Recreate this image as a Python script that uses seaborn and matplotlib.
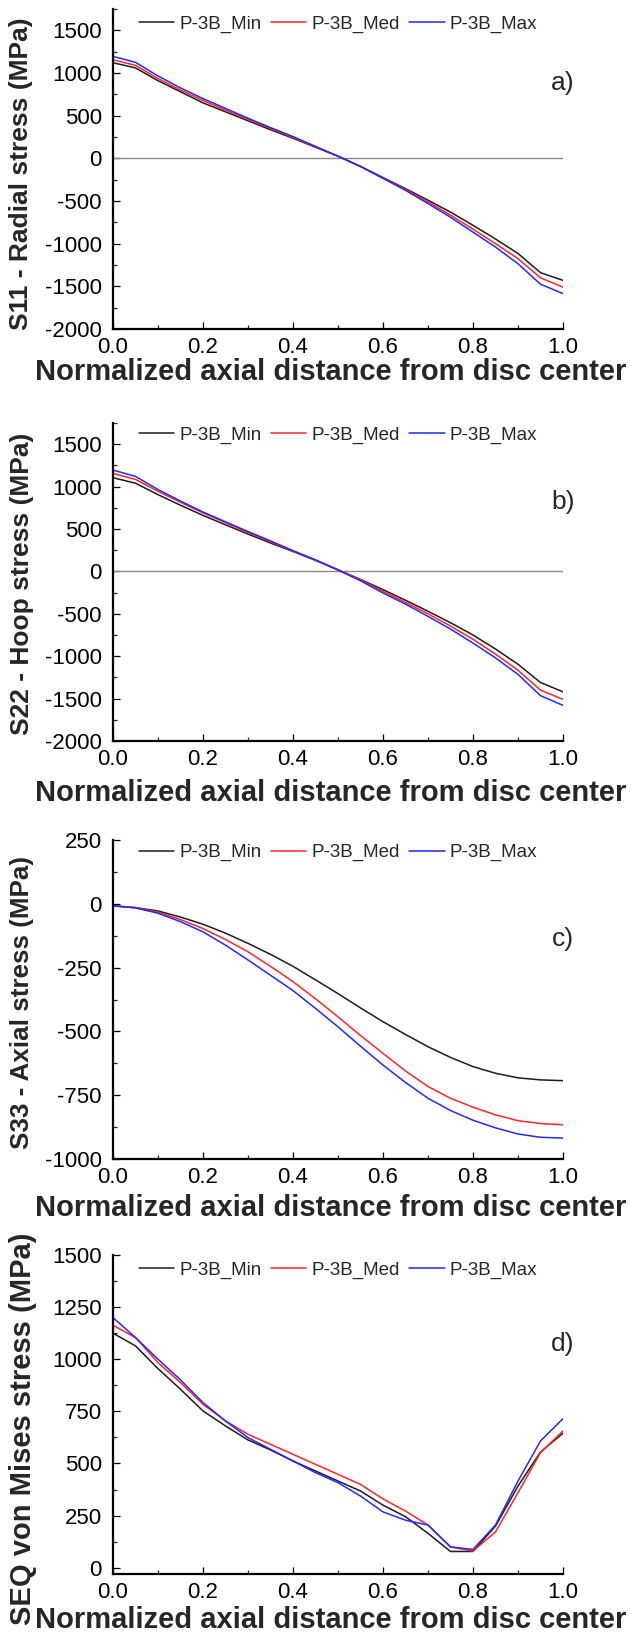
import numpy as np
import pandas as pd
import matplotlib
matplotlib.use('Agg')
import matplotlib.pyplot as plt
import seaborn as sns
from matplotlib.ticker import MultipleLocator, FormatStrFormatter

# ---------------- data ----------------
series_names = ['P-3B_Min', 'P-3B_Med', 'P-3B_Max']
series_colors = ['#1c1c1c', '#ff2626', '#2626ff']

x_pts = [0.0, 0.05, 0.1, 0.15, 0.2, 0.25, 0.3, 0.35, 0.4, 0.45, 0.5,
         0.55, 0.6, 0.65, 0.7, 0.75, 0.8, 0.85, 0.9, 0.95, 1.0]

# a) S11 radial stress
s11_min = [1120, 1060, 910, 780, 650, 545, 440, 335, 235, 130, 25,
           -95, -225, -355, -490, -630, -785, -945, -1115, -1340, -1430]
s11_med = [1155, 1090, 935, 800, 678, 565, 455, 350, 245, 135, 25,
           -95, -230, -365, -510, -665, -830, -1000, -1175, -1400, -1510]
s11_max = [1195, 1125, 965, 825, 700, 585, 470, 360, 255, 140, 25,
           -95, -235, -375, -530, -690, -865, -1040, -1235, -1475, -1585]

# b) S22 hoop stress
s22_min = [1105, 1040, 905, 780, 660, 550, 440, 335, 235, 130, 20,
           -95, -215, -340, -470, -605, -750, -915, -1095, -1310, -1420]
s22_med = [1155, 1085, 945, 815, 690, 575, 460, 350, 240, 135, 20,
           -100, -235, -365, -500, -645, -800, -975, -1165, -1400, -1510]
s22_max = [1195, 1120, 965, 830, 700, 585, 470, 360, 245, 135, 15,
           -110, -255, -385, -530, -680, -845, -1020, -1215, -1465, -1580]

# c) S33 axial stress
s33_min = [-8, -15, -28, -52, -80, -115, -155, -198, -245, -298, -352,
           -408, -462, -512, -560, -602, -638, -664, -682, -690, -693]
s33_med = [-8, -15, -33, -62, -97, -140, -188, -245, -305, -372, -443,
           -516, -586, -655, -716, -762, -797, -827, -850, -861, -866]
s33_max = [-8, -16, -37, -70, -110, -162, -220, -280, -340, -410, -482,
           -558, -632, -700, -762, -810, -848, -878, -902, -915, -918]

# d) SEQ von Mises stress
seq_min = [1125, 1064, 955, 856, 752, 680, 613, 565, 512, 464, 416,
           368, 300, 245, 165, 78, 78, 200, 392, 555, 645]
seq_med = [1163, 1104, 984, 888, 784, 704, 640, 592, 544, 496, 448,
           400, 330, 272, 205, 100, 80, 172, 360, 552, 656]
seq_max = [1200, 1104, 1000, 901, 792, 704, 624, 568, 512, 456, 408,
           344, 268, 228, 205, 100, 88, 205, 416, 608, 715]

panel_ylabels = ['S11 - Radial stress (MPa)', 'S22 - Hoop stress (MPa)',
                 'S33 - Axial stress (MPa)', 'SEQ von Mises stress (MPa)']
panel_letters = ['a)', 'b)', 'c)', 'd)']
xlabel_text = 'Normalized axial distance from disc center'
x_ticks = [0.0, 0.2, 0.4, 0.6, 0.8, 1.0]

panel_data = [(s11_min, s11_med, s11_max), (s22_min, s22_med, s22_max),
              (s33_min, s33_med, s33_max), (seq_min, seq_med, seq_max)]

# ---------------- style ----------------
sns.set_style('ticks')
plt.rcParams['font.family'] = ['Liberation Sans', 'DejaVu Sans']
plt.rcParams['axes.linewidth'] = 1.5
plt.rcParams['axes.unicode_minus'] = False

W, H = 631, 1636
fig = plt.figure(figsize=(W / 100, H / 100), dpi=100)

# axes boxes in pixels: (top, bottom)
boxes = [(9, 329), (423, 741), (840, 1159), (1255, 1574)]
left_px, right_px = 113, 563
ylims = [(-2000, 1750), (-2000, 1750), (-1000, 250), (-30, 1500)]
yminor = [250, 250, 125, 125]
ytick_list = [[-2000, -1500, -1000, -500, 0, 500, 1000, 1500],
              [-2000, -1500, -1000, -500, 0, 500, 1000, 1500],
              [-1000, -750, -500, -250, 0, 250],
              [0, 250, 500, 750, 1000, 1250, 1500]]
zero_line = [True, True, False, False]
letter_y = [0.77, 0.75, 0.69, 0.72]
legend_y = [0.952, 0.962, 0.96, 0.953]
xlabel_y = [-0.135, -0.163, -0.154, -0.144]
ylabel_pos = [(-0.204, 0.486), (-0.202, 0.494), (-0.202, 0.492), (-0.201, 0.455)]
ylabel_size = [19, 19, 18.7, 21]

palette = dict(zip(series_names, series_colors))

for i in range(4):
    top, bot = boxes[i]
    ax = fig.add_axes([left_px / W, 1 - bot / H, (right_px - left_px) / W, (bot - top) / H])
    mn, md, mx = panel_data[i]
    df = pd.DataFrame({
        'x': x_pts * 3,
        'y': list(mn) + list(md) + list(mx),
        'series': [series_names[0]] * len(x_pts) + [series_names[1]] * len(x_pts)
                  + [series_names[2]] * len(x_pts),
    })
    sns.lineplot(data=df, x='x', y='y', hue='series', palette=palette,
                 hue_order=series_names, ax=ax, linewidth=1.1,
                 estimator=None, sort=False, legend=False)
    handles = list(ax.get_lines())[:3]
    if zero_line[i]:
        ax.axhline(0, color='#8a8a8a', linewidth=1.0, zorder=1)

    ax.set_xlim(0, 1)
    ax.set_ylim(*ylims[i])
    ax.set_xticks(x_ticks)
    ax.xaxis.set_major_formatter(FormatStrFormatter('%.1f'))
    ax.xaxis.set_minor_locator(MultipleLocator(0.1))
    ax.set_yticks(ytick_list[i])
    ax.yaxis.set_minor_locator(MultipleLocator(yminor[i]))
    ax.tick_params(axis='both', which='major', direction='in', length=5, width=0.9,
                   labelsize=16, colors='black')
    ax.tick_params(axis='both', which='minor', direction='in', length=2.8, width=0.9)
    ax.tick_params(axis='x', which='major', pad=6)
    ax.tick_params(axis='y', which='major', pad=8)
    for s in ['top', 'right']:
        ax.spines[s].set_visible(False)
    for s in ['left', 'bottom']:
        ax.spines[s].set_linewidth(1.6)
        ax.spines[s].set_color('black')

    ax.set_xlabel(xlabel_text, fontsize=21, fontweight='bold', va='center')
    ax.xaxis.set_label_coords(0.483, xlabel_y[i])
    ax.set_ylabel(panel_ylabels[i], fontsize=ylabel_size[i], fontweight='bold', va='center')
    ax.yaxis.set_label_coords(*ylabel_pos[i])

    ax.text(1.0, letter_y[i], panel_letters[i], transform=ax.transAxes,
            ha='center', va='center', fontsize=19)

    leg = ax.legend(handles, series_names, loc='center', bbox_to_anchor=(0.5, legend_y[i]),
                    ncol=3, frameon=False, fontsize=13.5, handlelength=1.9,
                    handletextpad=0.27, columnspacing=0.5, borderaxespad=0)

fig.savefig('out.png', dpi=100)
